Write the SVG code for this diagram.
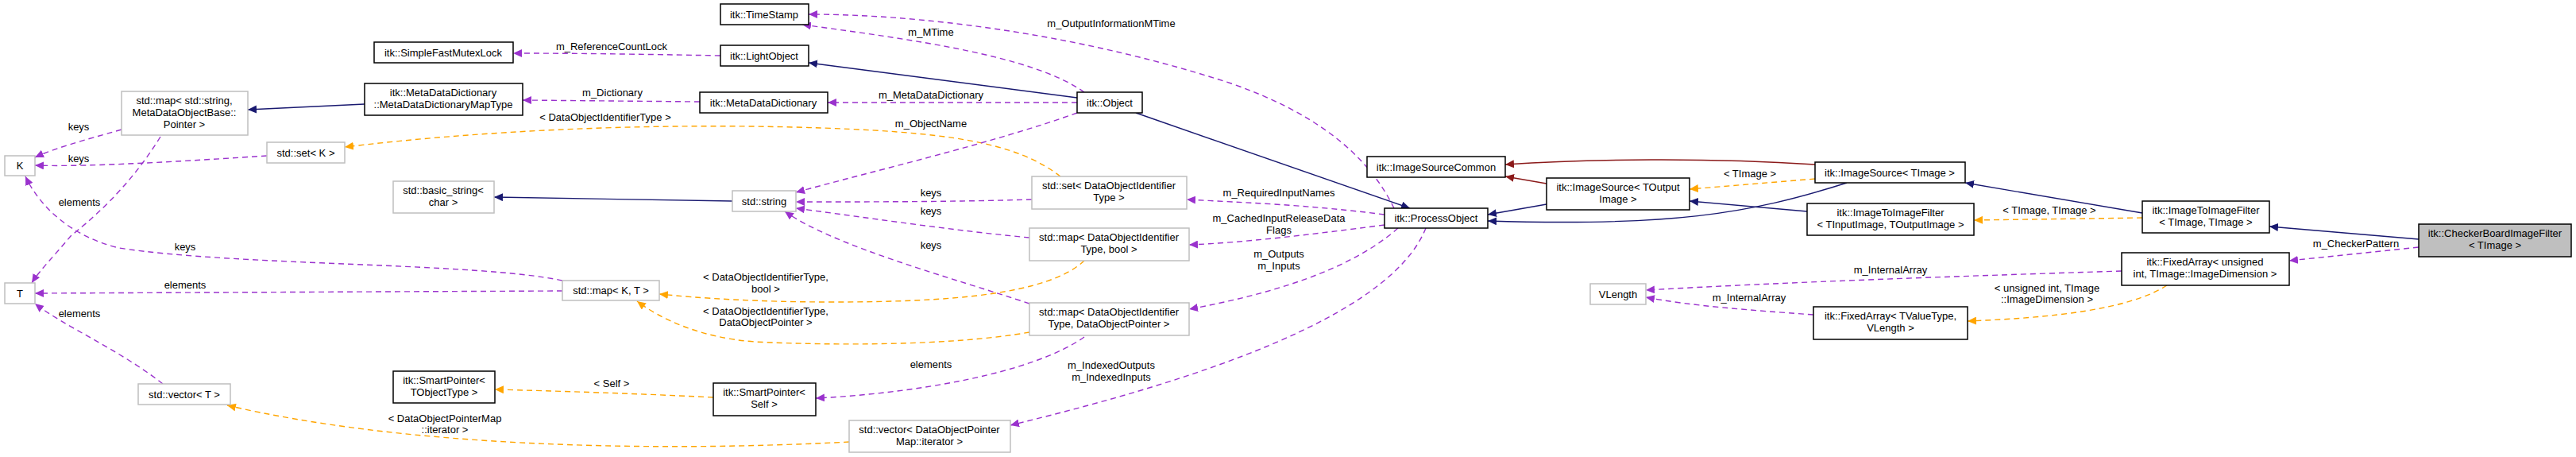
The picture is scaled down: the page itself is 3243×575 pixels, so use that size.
<svg xmlns="http://www.w3.org/2000/svg" width="3243" height="575" viewBox="0 0 3243 575">
<style>
text{font-family:"Liberation Sans",Arial,sans-serif;font-size:13px;fill:#000;text-anchor:middle}
.n rect{fill:#fff;stroke:#000;stroke-width:1.5}
.g rect{fill:#fff;stroke:#bfbfbf;stroke-width:1.5}
.p{fill:none;stroke:#9a32cd;stroke-width:1.4;stroke-dasharray:7,5}
.o{fill:none;stroke:#ffa500;stroke-width:1.4;stroke-dasharray:7,5}
.b{fill:none;stroke:#191970;stroke-width:1.4}
.r{fill:none;stroke:#8b1a1a;stroke-width:1.4}
</style>
<defs>
<marker id="mp" markerWidth="12" markerHeight="10" refX="11" refY="5" orient="auto" markerUnits="userSpaceOnUse"><path d="M0,0L11,5L0,10z" fill="#9a32cd"/></marker>
<marker id="mo" markerWidth="12" markerHeight="10" refX="11" refY="5" orient="auto" markerUnits="userSpaceOnUse"><path d="M0,0L11,5L0,10z" fill="#ffa500"/></marker>
<marker id="mb" markerWidth="12" markerHeight="10" refX="11" refY="5" orient="auto" markerUnits="userSpaceOnUse"><path d="M0,0L11,5L0,10z" fill="#191970"/></marker>
<marker id="mr" markerWidth="12" markerHeight="10" refX="11" refY="5" orient="auto" markerUnits="userSpaceOnUse"><path d="M0,0L11,5L0,10z" fill="#8b1a1a"/></marker>
</defs>
<g id="connectors">
<path class="p" marker-end="url(#mp)" d="M907,70 C800,68 720,67 646,67"/>
<text x="770" y="63">m_ReferenceCountLock</text>
<path class="p" marker-end="url(#mp)" d="M1365,116 C1300,70 1150,50 1010,31"/>
<text x="1172" y="45">m_MTime</text>
<path class="p" marker-end="url(#mp)" d="M1755,262 C1720,190 1650,140 1550,105 C1350,40 1150,18 1018,18"/>
<text x="1399" y="34">m_OutputInformationMTime</text>
<path class="b" marker-end="url(#mb)" d="M1356,123 L1018,79"/>
<path class="p" marker-end="url(#mp)" d="M1356,129 L1042,129"/>
<text x="1172" y="124">m_MetaDataDictionary</text>
<path class="p" marker-end="url(#mp)" d="M881,128 L658,126"/>
<text x="771" y="121">m_Dictionary</text>
<path class="b" marker-end="url(#mb)" d="M459,131 L312,138"/>
<path class="p" marker-end="url(#mp)" d="M153,163 C100,178 70,186 44,198"/>
<text x="99" y="164">keys</text>
<path class="p" marker-end="url(#mp)" d="M336,196 C200,205 100,210 44,208"/>
<text x="99" y="204">keys</text>
<path class="p" marker-end="url(#mp)" d="M202,172 C160,240 110,280 89,297 C70,320 50,340 40,356"/>
<text x="100" y="259">elements</text>
<path class="p" marker-end="url(#mp)" d="M708,353 C600,330 300,335 150,312 C90,298 50,260 32,222"/>
<text x="233" y="315">keys</text>
<path class="p" marker-end="url(#mp)" d="M708,366 L44,369"/>
<text x="233" y="363">elements</text>
<path class="p" marker-end="url(#mp)" d="M205,483 C150,440 80,410 44,382"/>
<text x="100" y="399">elements</text>
<path class="o" marker-end="url(#mo)" d="M1335,222 C1280,180 1200,165 1000,160 C800,155 600,165 434,185"/>
<text x="762" y="152">&lt; DataObjectIdentifierType &gt;</text>
<path class="b" marker-end="url(#mb)" d="M922,253 L622,248"/>
<path class="p" marker-end="url(#mp)" d="M1356,142 C1250,180 1100,215 1002,242"/>
<text x="1172" y="160">m_ObjectName</text>
<path class="p" marker-end="url(#mp)" d="M1299,251 C1200,254 1100,254 1002,254"/>
<text x="1172" y="247">keys</text>
<path class="p" marker-end="url(#mp)" d="M1296,299 C1200,290 1100,275 1002,262"/>
<text x="1172" y="270">keys</text>
<path class="p" marker-end="url(#mp)" d="M1296,382 C1200,350 1050,310 988,266"/>
<text x="1172" y="313">keys</text>
<path class="o" marker-end="url(#mo)" d="M1365,328 C1320,370 1200,380 1050,380 C950,380 880,375 830,370"/>
<text x="964" y="353">&lt; DataObjectIdentifierType,</text>
<text x="964" y="368">bool &gt;</text>
<path class="o" marker-end="url(#mo)" d="M1296,418 C1200,435 1050,435 950,430 C880,425 830,400 802,379"/>
<text x="964" y="396">&lt; DataObjectIdentifierType,</text>
<text x="964" y="410">DataObjectPointer &gt;</text>
<path class="o" marker-end="url(#mo)" d="M898,500 C800,495 700,492 623,490"/>
<text x="770" y="487">&lt; Self &gt;</text>
<path class="p" marker-end="url(#mp)" d="M1365,424 C1300,470 1150,495 1027,501"/>
<text x="1172" y="463">elements</text>
<path class="o" marker-end="url(#mo)" d="M1069,556 C800,570 500,560 286,510"/>
<text x="560" y="531">&lt; DataObjectPointerMap</text>
<text x="560" y="545">::iterator &gt;</text>
<path class="p" marker-end="url(#mp)" d="M1743,270 C1650,258 1570,255 1494,251"/>
<text x="1610" y="247">m_RequiredInputNames</text>
<path class="p" marker-end="url(#mp)" d="M1743,283 C1650,295 1570,305 1497,308"/>
<text x="1610" y="279">m_CachedInputReleaseData</text>
<text x="1610" y="294">Flags</text>
<path class="p" marker-end="url(#mp)" d="M1760,287 C1700,340 1600,370 1497,389"/>
<text x="1610" y="324">m_Outputs</text>
<text x="1610" y="339">m_Inputs</text>
<path class="p" marker-end="url(#mp)" d="M1795,287 C1750,400 1500,480 1272,535"/>
<text x="1399" y="464">m_IndexedOutputs</text>
<text x="1399" y="479">m_IndexedInputs</text>
<path class="b" marker-end="url(#mb)" d="M1430,142 L1775,262"/>
<path class="b" marker-end="url(#mb)" d="M2325,230 C2200,270 2100,285 1873,278"/>
<path class="b" marker-end="url(#mb)" d="M1947,257 L1873,270"/>
<path class="r" marker-end="url(#mr)" d="M2285,207 C2150,198 2000,200 1895,207"/>
<path class="r" marker-end="url(#mr)" d="M1947,231 L1895,222"/>
<path class="o" marker-end="url(#mo)" d="M2285,225 L2127,238"/>
<text x="2203" y="223">&lt; TImage &gt;</text>
<path class="b" marker-end="url(#mb)" d="M2275,266 L2127,253"/>
<path class="b" marker-end="url(#mb)" d="M2697,268 L2474,230"/>
<path class="o" marker-end="url(#mo)" d="M2697,274 L2485,277"/>
<text x="2580" y="269">&lt; TImage, TImage &gt;</text>
<path class="b" marker-end="url(#mb)" d="M3045,301 L2857,285"/>
<path class="p" marker-end="url(#mp)" d="M3045,311 L2882,328"/>
<text x="2966" y="311">m_CheckerPattern</text>
<path class="p" marker-end="url(#mp)" d="M2671,341 C2450,348 2250,355 2072,365"/>
<text x="2380" y="344">m_InternalArray</text>
<path class="p" marker-end="url(#mp)" d="M2283,396 C2200,390 2130,385 2072,374"/>
<text x="2202" y="379">m_InternalArray</text>
<path class="o" marker-end="url(#mo)" d="M2728,359 C2680,390 2580,400 2477,404"/>
<text x="2577" y="367">&lt; unsigned int, TImage</text>
<text x="2577" y="381">::ImageDimension &gt;</text>
</g>
<g id="TimeStamp" class="n"><rect x="907" y="5" width="111" height="26"/><text x="962" y="23">itk::TimeStamp</text></g>
<g id="LightObject" class="n"><rect x="907" y="57" width="111" height="26"/><text x="962" y="75">itk::LightObject</text></g>
<g id="SimpleFastMutexLock" class="n"><rect x="471" y="53" width="175" height="26"/><text x="558" y="71">itk::SimpleFastMutexLock</text></g>
<g id="MetaDataDictionary" class="n"><rect x="881" y="116" width="161" height="26"/><text x="961" y="134">itk::MetaDataDictionary</text></g>
<g id="MapType" class="n"><rect x="459" y="105" width="199" height="40"/><text x="558" y="121">itk::MetaDataDictionary</text><text x="558" y="136">::MetaDataDictionaryMapType</text></g>
<g id="StdMapString" class="g"><rect x="153" y="115" width="159" height="55"/><text x="232" y="131">std::map&lt; std::string,</text><text x="232" y="146">MetaDataObjectBase::</text><text x="232" y="161">Pointer &gt;</text></g>
<g id="K" class="g"><rect x="6" y="196" width="38" height="25"/><text x="25" y="213">K</text></g>
<g id="StdSetK" class="g"><rect x="336" y="179" width="98" height="26"/><text x="385" y="197">std::set&lt; K &gt;</text></g>
<g id="BasicString" class="g"><rect x="495" y="228" width="127" height="40"/><text x="558" y="244">std::basic_string&lt;</text><text x="558" y="259">char &gt;</text></g>
<g id="Object" class="n"><rect x="1356" y="116" width="82" height="26"/><text x="1397" y="134">itk::Object</text></g>
<g id="StdString" class="g"><rect x="922" y="240" width="80" height="26"/><text x="962" y="258">std::string</text></g>
<g id="SetDOIT" class="g"><rect x="1299" y="222" width="195" height="41"/><text x="1396" y="238">std::set&lt; DataObjectIdentifier</text><text x="1396" y="253">Type &gt;</text></g>
<g id="MapDOITBool" class="g"><rect x="1296" y="287" width="201" height="41"/><text x="1396" y="303">std::map&lt; DataObjectIdentifier</text><text x="1396" y="318">Type, bool &gt;</text></g>
<g id="MapDOITDOP" class="g"><rect x="1296" y="381" width="201" height="41"/><text x="1396" y="397">std::map&lt; DataObjectIdentifier</text><text x="1396" y="412">Type, DataObjectPointer &gt;</text></g>
<g id="T" class="g"><rect x="6" y="356" width="38" height="26"/><text x="25" y="374">T</text></g>
<g id="MapKT" class="g"><rect x="708" y="353" width="122" height="25"/><text x="769" y="370">std::map&lt; K, T &gt;</text></g>
<g id="VectorT" class="g"><rect x="174" y="483" width="116" height="26"/><text x="232" y="501">std::vector&lt; T &gt;</text></g>
<g id="SmartPointerT" class="n"><rect x="495" y="467" width="128" height="40"/><text x="559" y="483">itk::SmartPointer&lt;</text><text x="559" y="498">TObjectType &gt;</text></g>
<g id="SmartPointerSelf" class="n"><rect x="898" y="482" width="129" height="41"/><text x="962" y="498">itk::SmartPointer&lt;</text><text x="962" y="513">Self &gt;</text></g>
<g id="VectorDOP" class="g"><rect x="1069" y="529" width="203" height="40"/><text x="1170" y="545">std::vector&lt; DataObjectPointer</text><text x="1170" y="560">Map::iterator &gt;</text></g>
<g id="ImageSourceCommon" class="n"><rect x="1721" y="197" width="174" height="26"/><text x="1808" y="215">itk::ImageSourceCommon</text></g>
<g id="ProcessObject" class="n"><rect x="1743" y="262" width="130" height="25"/><text x="1808" y="279">itk::ProcessObject</text></g>
<g id="ImageSourceTOut" class="n"><rect x="1947" y="224" width="180" height="40"/><text x="2037" y="240">itk::ImageSource&lt; TOutput</text><text x="2037" y="255">Image &gt;</text></g>
<g id="ImageSourceTImage" class="n"><rect x="2285" y="204" width="189" height="26"/><text x="2379" y="222">itk::ImageSource&lt; TImage &gt;</text></g>
<g id="ImageToImageFilterIO" class="n"><rect x="2275" y="256" width="210" height="40"/><text x="2380" y="272">itk::ImageToImageFilter</text><text x="2380" y="287">&lt; TInputImage, TOutputImage &gt;</text></g>
<g id="ImageToImageFilterTT" class="n"><rect x="2697" y="253" width="160" height="40"/><text x="2777" y="269">itk::ImageToImageFilter</text><text x="2777" y="284">&lt; TImage, TImage &gt;</text></g>
<g id="CheckerBoard" class="n"><rect x="3045" y="282" width="192" height="41" style="fill:#bfbfbf"/><text x="3141" y="298">itk::CheckerBoardImageFilter</text><text x="3141" y="313">&lt; TImage &gt;</text></g>
<g id="FixedArrayUInt" class="n"><rect x="2671" y="318" width="211" height="41"/><text x="2776" y="334">itk::FixedArray&lt; unsigned</text><text x="2776" y="349">int, TImage::ImageDimension &gt;</text></g>
<g id="VLength" class="g"><rect x="2002" y="357" width="70" height="26"/><text x="2037" y="375">VLength</text></g>
<g id="FixedArrayTV" class="n"><rect x="2283" y="386" width="194" height="41"/><text x="2380" y="402">itk::FixedArray&lt; TValueType,</text><text x="2380" y="417">VLength &gt;</text></g>
</svg>
